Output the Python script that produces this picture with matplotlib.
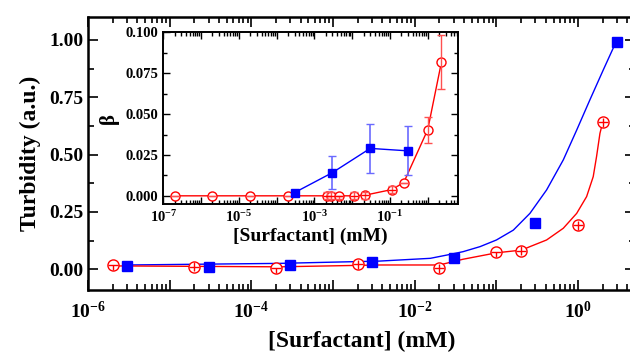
import numpy as np
import matplotlib
matplotlib.use("Agg")
import matplotlib.pyplot as plt
from matplotlib.ticker import FuncFormatter, LogLocator, NullFormatter, MultipleLocator

plt.rcParams['font.family'] = ['Liberation Serif', 'DejaVu Serif']
plt.rcParams['font.weight'] = 'bold'
plt.rcParams['axes.labelweight'] = 'bold'
plt.rcParams['axes.unicode_minus'] = False

# ---- main chart: turbidity vs surfactant concentration ----
blue_x = [3e-6, 3e-5, 3e-4, 3e-3, 0.03, 0.3, 3.0]
blue_y = [0.014, 0.011, 0.019, 0.033, 0.048, 0.203, 0.99]

red_x = [2e-6, 2e-5, 2e-4, 2e-3, 0.02, 0.1, 0.2, 1.0, 2.0]
red_y = [0.019, 0.011, 0.004, 0.022, 0.004, 0.074, 0.081, 0.192, 0.641]
red_err_up = [0.0, 0.02, 0.0, 0.02, 0.02, 0.0, 0.02, 0.02, 0.02]
red_err_dn = [0.02, 0.02, 0.02, 0.02, 0.02, 0.02, 0.02, 0.02, 0.02]

# fitted curves
blue_fit_x = [3e-6, 2.2e-4, 3.7e-3, 0.0155, 0.0245, 0.039, 0.063, 0.100, 0.161,
              0.257, 0.411, 0.658, 0.96, 1.39, 2.03, 2.9]
blue_fit_y = [0.019, 0.026, 0.036, 0.048, 0.062, 0.077, 0.099, 0.128, 0.171,
              0.244, 0.346, 0.477, 0.607, 0.738, 0.869, 0.99]
red_fit_x = [2e-6, 2.2e-4, 3.7e-3, 0.020, 0.039, 0.10, 0.204, 0.257, 0.411, 0.658,
             0.96, 1.27, 1.53, 1.68, 1.85, 2.0]
red_fit_y = [0.015, 0.011, 0.019, 0.019, 0.044, 0.072, 0.084, 0.099, 0.128, 0.179,
             0.244, 0.317, 0.404, 0.491, 0.593, 0.641]

# ---- inset: beta vs surfactant concentration ----
ib_x = [3e-4, 3e-3, 0.03, 0.3]
ib_y = [0.002, 0.0142, 0.029, 0.0275]
ib_err = [0.0, 0.010, 0.015, 0.015]

ir_x = [2e-7, 2e-6, 2e-5, 2e-4, 2.2e-3, 2.7e-3, 4.4e-3, 0.011, 0.022, 0.11, 0.23, 1.0, 2.3]
ir_y = [0.0, 0.0, 0.0, 0.0, 0.0, 0.0, 0.0, 0.0, 0.0004, 0.0038, 0.008, 0.0405, 0.0817]
ir_err_up = [0.0, 0.0, 0.0, 0.0, 0.0022, 0.0022, 0.0, 0.0022, 0.0022, 0.0022, 0.0, 0.008, 0.0165]
ir_err_dn = [0.0, 0.0, 0.0, 0.0, 0.0022, 0.0022, 0.0022, 0.0022, 0.0022, 0.0022, 0.0, 0.008, 0.0165]

BLUE = '#0000ff'
RED = '#ff0000'


def log_labels(keep_even):
    def fmt(v, p):
        e = int(round(np.log10(v)))
        if (e % 2 == 0) == keep_even:
            return r'$\mathdefault{10^{%d}}$' % e
        return ''
    return FuncFormatter(fmt)


fig = plt.figure(figsize=(6.3, 3.53), dpi=100)
ax = fig.add_axes([0.1397, 0.1785, 0.8686, 0.7734])

ax.plot(blue_fit_x, blue_fit_y, color=BLUE, lw=1.0)
ax.plot(red_fit_x, red_fit_y, color=RED, lw=1.0)
ax.plot(blue_x, blue_y, ls='none', marker='s', ms=7.5, color=BLUE, zorder=4)
ax.plot(red_x, red_y, ls='none', marker='o', ms=8, mfc='white', mec=RED, mew=1.0, zorder=3)
ax.errorbar(red_x, red_y, yerr=[red_err_dn, red_err_up], fmt='none', ecolor=RED,
            elinewidth=1.0, zorder=3.5)
ax.plot(red_x, red_y, ls='none', marker='_', ms=7, mew=1.0, color=RED, zorder=3.5)

ax.set_xscale('log')
ax.set_xlim(1e-6, 5)
ax.set_ylim(-0.09, 1.10)
ax.xaxis.set_major_locator(LogLocator(base=10, numticks=20))
ax.xaxis.set_minor_locator(LogLocator(base=10, subs=np.arange(2, 10), numticks=20))
ax.xaxis.set_major_formatter(log_labels(True))
ax.xaxis.set_minor_formatter(NullFormatter())
ax.yaxis.set_major_locator(MultipleLocator(0.25))
ax.yaxis.set_minor_locator(MultipleLocator(0.125))
ax.yaxis.set_major_formatter(FuncFormatter(lambda v, p: '%.2f' % v))
ax.tick_params(which='both', direction='in', top=True, right=True, width=1.2, labelsize=14)
ax.tick_params(which='major', length=7)
ax.tick_params(which='minor', length=4)
ax.tick_params(axis='x', pad=8)
for s in ax.spines.values():
    s.set_linewidth(1.8)
ax.set_xlabel('[Surfactant] (mM)', fontsize=17, labelpad=6)
ax.set_ylabel('Turbidity (a.u.)', fontsize=17, labelpad=6)

ins = fig.add_axes([0.2592, 0.4221, 0.4673, 0.4864])
ins.errorbar(ib_x, ib_y, yerr=ib_err, color=BLUE, lw=1.0, ecolor='#6a6aff', elinewidth=1.2,
             capsize=3, capthick=1.0, marker='s', ms=6, zorder=3)
ins.plot(ir_x, ir_y, color=RED, lw=1.0, marker='o', ms=6.5, mfc='white', mec=RED, mew=1.0,
         zorder=2)
ins.errorbar(ir_x, ir_y, yerr=[ir_err_dn, ir_err_up], fmt='none', ecolor='#ff5050',
             elinewidth=1.0, capsize=3, capthick=1.0, zorder=2.5)
small = [(x, y) for x, y, e in zip(ir_x, ir_y, ir_err_dn) if 0 < e < 0.003]
ins.plot([p[0] for p in small], [p[1] for p in small], ls='none', marker='_', ms=5.5,
         mew=1.0, color=RED, zorder=2.5)

ins.set_xscale('log')
ins.set_xlim(1e-7, 6.2)
ins.set_ylim(-0.005, 0.1)
ins.xaxis.set_major_locator(LogLocator(base=10, numticks=20))
ins.xaxis.set_minor_locator(LogLocator(base=10, subs=np.arange(2, 10), numticks=20))
ins.xaxis.set_major_formatter(log_labels(False))
ins.xaxis.set_minor_formatter(NullFormatter())
ins.yaxis.set_major_locator(MultipleLocator(0.025))
ins.yaxis.set_minor_locator(MultipleLocator(0.0125))
ins.yaxis.set_major_formatter(FuncFormatter(lambda v, p: '%.3f' % v))
ins.tick_params(which='both', direction='in', top=True, right=True, width=1.0, labelsize=10.5)
ins.tick_params(which='major', length=5)
ins.tick_params(which='minor', length=3)
for s in ins.spines.values():
    s.set_linewidth(1.4)
ins.set_xlabel('[Surfactant] (mM)', fontsize=14, labelpad=2)
ins.set_ylabel('β', fontsize=15, labelpad=5)

fig.savefig('out.png', dpi=100)
